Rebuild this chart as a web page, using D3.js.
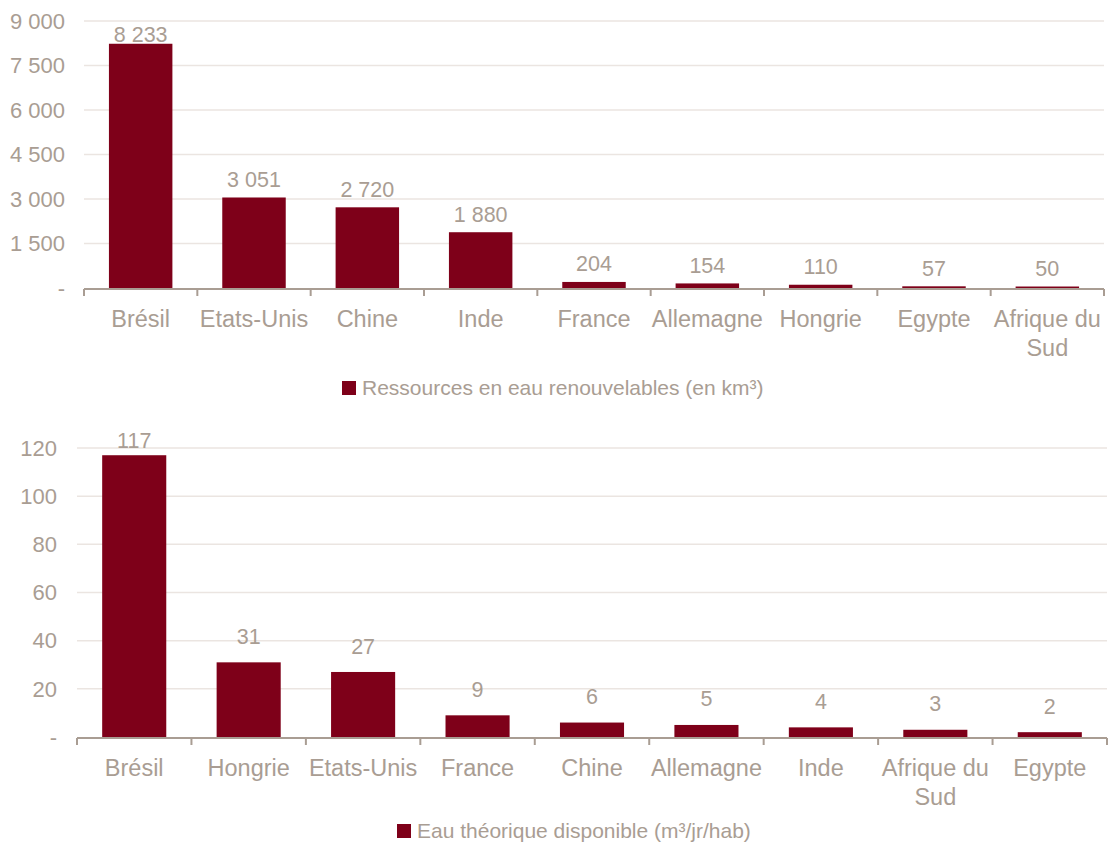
<!DOCTYPE html>
<html>
<head>
<meta charset="utf-8">
<script src="https://cdn.jsdelivr.net/npm/d3@7"></script>
<style>
  body { margin: 0; background: #fff; }
  svg text { font-family: "Liberation Sans", Arial, sans-serif; fill: #a99d93; }
</style>
</head>
<body>
<svg id="chart" width="1109" height="843"></svg>
<script>
// top chart - renewable water resources
const countries1 = ["Brésil", "Etats-Unis", "Chine", "Inde", "France", "Allemagne", "Hongrie", "Egypte", "Afrique du Sud"];
const ressources = [8233, 3051, 2720, 1880, 204, 154, 110, 57, 50];
const ticks1 = [0, 1500, 3000, 4500, 6000, 7500, 9000];

// bottom chart - theoretical water available per inhabitant
const countries2 = ["Brésil", "Hongrie", "Etats-Unis", "France", "Chine", "Allemagne", "Inde", "Afrique du Sud", "Egypte"];
const eauDispo = [117, 31, 27, 9, 6, 5, 4, 3, 2];
const ticks2 = [0, 20, 40, 60, 80, 100, 120];

const barColor = "#7e0019";
const textColor = "#a99d93";
const gridColor = "#ebe5e1";

const fr = d3.formatLocale({decimal: ",", thousands: "\u00a0", grouping: [3], currency: ["", " €"]});
const fmt = fr.format(",d");

const svg = d3.select("#chart");

function drawChart(cfg) {
    const data = cfg.cats.map((c, i) => ({cat: c, value: cfg.values[i]}));

    const x = d3.scaleBand()
        .domain(cfg.cats)
        .range([cfg.left, cfg.right])
        .paddingInner(0.44)
        .paddingOuter(0.22);

    const y = d3.scaleLinear()
        .domain([0, cfg.ticks[cfg.ticks.length - 1]])
        .range([cfg.bottom, cfg.top]);

    const g = svg.append("g");

    // gridlines
    g.selectAll(".grid")
        .data(cfg.ticks.filter(t => t > 0))
        .enter()
        .append("line")
        .attr("x1", cfg.left)
        .attr("x2", cfg.right)
        .attr("y1", d => y(d))
        .attr("y2", d => y(d))
        .attr("stroke", gridColor)
        .attr("stroke-width", 1.5);

    // y tick labels
    g.selectAll(".ylab")
        .data(cfg.ticks)
        .enter()
        .append("text")
        .attr("x", cfg.yLabelX)
        .attr("y", d => y(d))
        .attr("dy", "0.35em")
        .attr("text-anchor", "end")
        .attr("font-size", "22px")
        .text(d => d === 0 ? "-" : fmt(d));

    // bars
    g.selectAll(".bar")
        .data(data)
        .enter()
        .append("rect")
        .attr("x", d => x(d.cat))
        .attr("y", d => y(d.value))
        .attr("width", x.bandwidth())
        .attr("height", d => cfg.bottom - y(d.value))
        .attr("fill", barColor);

    // value labels, kept inside the chart area at the top
    g.selectAll(".val")
        .data(data)
        .enter()
        .append("text")
        .attr("x", d => x(d.cat) + x.bandwidth() / 2)
        .attr("y", d => Math.max(y(d.value) - cfg.labelOffset, cfg.labelMin))
        .attr("dy", "0.35em")
        .attr("text-anchor", "middle")
        .attr("font-size", "21.5px")
        .text(d => fmt(d.value));

    // x axis line and ticks at band boundaries
    const step = (cfg.right - cfg.left) / cfg.cats.length;
    g.append("line")
        .attr("x1", cfg.left)
        .attr("x2", cfg.right)
        .attr("y1", cfg.bottom + 1)
        .attr("y2", cfg.bottom + 1)
        .attr("stroke", textColor)
        .attr("stroke-width", 2);

    g.selectAll(".xtick")
        .data(d3.range(cfg.cats.length + 1))
        .enter()
        .append("line")
        .attr("x1", i => cfg.left + i * step)
        .attr("x2", i => cfg.left + i * step)
        .attr("y1", cfg.bottom + 1)
        .attr("y2", cfg.bottom + 8)
        .attr("stroke", textColor)
        .attr("stroke-width", 2);

    // category labels (wrap "Afrique du Sud")
    const catText = g.selectAll(".xlab")
        .data(cfg.cats)
        .enter()
        .append("text")
        .attr("x", d => x(d) + x.bandwidth() / 2)
        .attr("y", cfg.catY)
        .attr("text-anchor", "middle")
        .attr("font-size", "23.5px");

    catText.each(function(d) {
        const lines = d === "Afrique du Sud" ? ["Afrique du", "Sud"] : [d];
        const t = d3.select(this);
        lines.forEach((l, i) => {
            t.append("tspan")
                .attr("x", x(d) + x.bandwidth() / 2)
                .attr("dy", i === 0 ? "0.35em" : "29px")
                .text(l);
        });
    });

    // legend
    const leg = g.append("g");
    leg.append("rect")
        .attr("x", cfg.legendX)
        .attr("y", cfg.legendY - 7)
        .attr("width", 14)
        .attr("height", 14)
        .attr("fill", barColor);
    leg.append("text")
        .attr("x", cfg.legendX + 20)
        .attr("y", cfg.legendY)
        .attr("dy", "0.35em")
        .attr("font-size", "21px")
        .text(cfg.legend);
}

drawChart({
    cats: countries1, values: ressources, ticks: ticks1,
    left: 84, right: 1104, top: 21, bottom: 288,
    yLabelX: 65, labelOffset: 18, labelMin: 34, catY: 319,
    legendX: 342, legendY: 388, legend: "Ressources en eau renouvelables (en km³)"
});

drawChart({
    cats: countries2, values: eauDispo, ticks: ticks2,
    left: 77, right: 1107, top: 448, bottom: 737,
    yLabelX: 57, labelOffset: 26, labelMin: 440, catY: 768,
    legendX: 397, legendY: 831, legend: "Eau théorique disponible (m³/jr/hab)"
});
</script>
</body>
</html>
